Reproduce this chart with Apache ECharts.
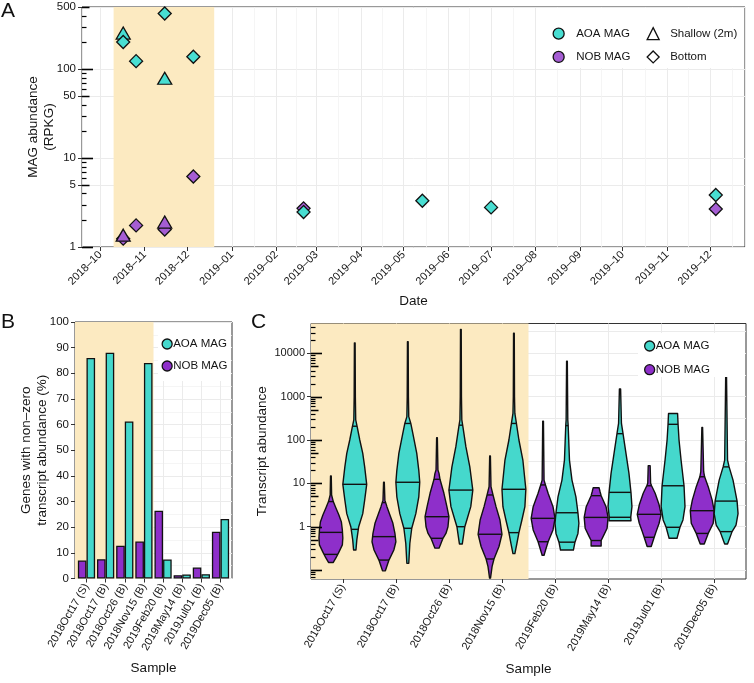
<!DOCTYPE html>
<html><head><meta charset="utf-8">
<script src="https://cdn.jsdelivr.net/npm/echarts@6/dist/echarts.min.js"></script>
<style>html,body{margin:0;padding:0;background:#fff}#c{width:754px;height:683px}</style>
</head><body><div id="c"></div>
<script>
// ---------------- Panel A data ----------------
const aoaShallowDates = ['2018-10-17', '2018-11-15'];
const aoaShallowRPKG = [242, 75];
const nobShallowDates = ['2018-10-17', '2018-11-15'];
const nobShallowRPKG = [1.29, 1.81];
const aoaBottomDates = ['2018-10-17', '2018-10-26', '2018-11-15', '2018-12-05', '2019-02-20', '2019-05-14', '2019-07-01', '2019-12-05'];
const aoaBottomRPKG = [202, 123, 423, 138, 2.47, 3.31, 2.79, 3.84];
const nobBottomDates = ['2018-10-17', '2018-10-26', '2018-11-15', '2018-12-05', '2019-02-20', '2019-12-05'];
const nobBottomRPKG = [1.24, 1.75, 1.57, 6.2, 2.72, 2.67];
const aShadeDates = ['2018-10-10T07:00:00', '2018-12-19T14:00:00'];
const aYTickLabels = [1, 5, 10, 50, 100, 500];

// ---------------- Panel B data ----------------
const samples = ['2018Oct17 (S)', '2018Oct17 (B)', '2018Oct26 (B)', '2018Nov15 (B)', '2019Feb20 (B)', '2019May14 (B)', '2019Jul01 (B)', '2019Dec05 (B)'];
const aoaPct = [86, 88, 61.2, 84, 7.4, 1.6, 1.7, 23.2];
const nobPct = [7, 7.5, 12.8, 14.4, 26.4, 1.3, 4.3, 18.2];
const shadeSamplesUpTo = 4; // first four samples shaded

// ---------------- Panel C data (violins) ----------------
const violinSample = [1, 1, 2, 2, 3, 3, 4, 4, 5, 5, 6, 6, 7, 7, 8, 8];
const violinMAG = ['NOB', 'AOA', 'NOB', 'AOA', 'NOB', 'AOA', 'NOB', 'AOA', 'NOB', 'AOA', 'NOB', 'AOA', 'NOB', 'AOA', 'NOB', 'AOA'];
const violinVals = [
  [0.15, 0.19, 0.26, 0.38, 0.55, 0.84, 1.28, 1.86, 2.7, 3.8, 5.4, 14.8],
  [0.29, 0.49, 1.0, 2.0, 4.1, 9.5, 24, 49, 100, 203, 290, 1000, 17400],
  [0.096, 0.17, 0.29, 0.45, 0.70, 1.2, 1.86, 2.9, 4.1, 10.6],
  [0.143, 0.41, 0.92, 2.0, 4.9, 10.6, 20, 49, 142, 241, 346, 1000, 18500],
  [0.32, 0.41, 0.54, 0.70, 1.0, 1.70, 2.9, 5.9, 12.4, 17, 20.4, 113],
  [0.40, 0.59, 1.0, 1.43, 2.9, 7.0, 24, 70, 203, 290, 1000, 35700],
  [0.065, 0.12, 0.18, 0.35, 0.67, 1.43, 2.9, 5.4, 8.4, 43],
  [0.24, 0.41, 0.73, 1.43, 2.9, 7.3, 34.5, 100, 241, 410, 1000, 28900],
  [0.22, 0.29, 0.45, 0.84, 1.56, 2.9, 5.9, 9.2, 11.9, 273],
  [0.29, 0.44, 0.70, 1.2, 2.1, 4.9, 11.9, 34.5, 220, 290, 6600],
  [0.36, 0.48, 0.59, 0.92, 1.64, 2.9, 5.2, 6.4, 7.9],
  [1.37, 1.65, 2.9, 6.1, 17, 49, 142, 241, 1500],
  [0.35, 0.57, 0.77, 1.2, 1.93, 3.2, 5.9, 8.8, 10, 25.6],
  [0.54, 0.97, 1.43, 2.9, 8.8, 34.5, 100, 230, 410],
  [0.40, 0.70, 1.2, 2.34, 4.1, 8.4, 14.2, 18.6, 196],
  [0.40, 0.77, 1.09, 2.0, 3.9, 11.9, 24, 34.5, 3800]
];
const violinDensity = [
  [0.2, 0.42, 0.67, 0.96, 1.0, 0.96, 0.88, 0.67, 0.42, 0.2, 0.06, 0.03],
  [0.1, 0.17, 0.33, 0.67, 0.83, 1.0, 0.83, 0.67, 0.42, 0.2, 0.08, 0.05, 0.03],
  [0.12, 0.42, 0.83, 1.0, 0.92, 0.75, 0.5, 0.25, 0.08, 0.03],
  [0.08, 0.17, 0.33, 0.67, 0.92, 1.0, 0.92, 0.75, 0.42, 0.25, 0.08, 0.05, 0.03],
  [0.17, 0.33, 0.5, 0.75, 0.92, 1.0, 0.83, 0.58, 0.25, 0.17, 0.08, 0.03],
  [0.12, 0.21, 0.33, 0.5, 0.83, 1.0, 0.75, 0.42, 0.17, 0.08, 0.05, 0.03],
  [0.04, 0.17, 0.33, 0.75, 1.0, 0.83, 0.5, 0.25, 0.08, 0.03],
  [0.08, 0.25, 0.42, 0.67, 0.92, 1.0, 0.75, 0.42, 0.21, 0.08, 0.05, 0.03],
  [0.08, 0.21, 0.42, 0.83, 1.0, 0.83, 0.42, 0.2, 0.08, 0.03],
  [0.54, 0.67, 0.92, 1.0, 0.92, 0.75, 0.42, 0.21, 0.1, 0.07, 0.03],
  [0.42, 0.42, 0.58, 0.92, 1.0, 0.83, 0.42, 0.33, 0.25],
  [0.92, 0.9, 1.0, 0.92, 0.75, 0.5, 0.25, 0.12, 0.05],
  [0.17, 0.42, 0.58, 0.83, 1.0, 0.83, 0.5, 0.2, 0.12, 0.08],
  [0.33, 0.58, 0.83, 1.0, 0.92, 0.67, 0.5, 0.42, 0.38],
  [0.17, 0.5, 0.92, 1.0, 0.83, 0.5, 0.2, 0.12, 0.03],
  [0.12, 0.5, 0.83, 1.0, 0.92, 0.58, 0.25, 0.12, 0.03]
];
const violinQuantiles = [
  [0.23, 0.74, 3.8], [0.87, 9.5, 208], [0.17, 0.59, 3.6], [0.92, 10.6, 241],
  [0.54, 1.70, 12.4], [1.0, 7.0, 220], [0.18, 0.67, 5.4], [0.73, 7.3, 241],
  [0.45, 1.56, 9.2], [0.44, 2.1, 215], [0.48, 1.64, 5.2], [1.65, 6.2, 140],
  [0.57, 1.93, 8.8], [0.97, 8.8, 230], [0.70, 2.34, 14.2], [0.77, 3.9, 24]
];
const cYTickLabels = [1, 10, 100, 1000, 10000];

// ---------------- styling ----------------
const AOA_A = '#48DED2', NOB_A = '#A55DD3';
const AOA = '#45D8CC', NOB = '#8E2FCA';
const SHADE = '#FCEAC1';
const GRID = '#EBEBEB';
const TXT = '#151515';
const FONT = 'Liberation Sans, Arial, sans-serif';

const GA = {left: 82, top: 7, width: 663, height: 240};
const GB = {left: 75, top: 322, width: 157, height: 256.5};
const GC = {left: 311, top: 323.5, width: 435, height: 255.5};

// log tick helpers (axis decoration only): [value, tickClass] 0=long 1=mid 2=short
function logTicks(min, max) {
  const out = [];
  for (let e = -3; e <= 5; e++) {
    for (let m = 1; m <= 9; m++) {
      const v = +(m * Math.pow(10, e)).toPrecision(6);
      if (v < min || v > max) continue;
      out.push([v, m === 1 ? 0 : (m === 5 ? 1 : 2)]);
    }
  }
  return out;
}
const TICK_LEN = [11, 7.5, 4.5];
const TICK_W = [1.6, 1.5, 1.2];

const aMin = 1, aMax = 500;
const cMin = 0.0622, cMax = 48700;
const aLT = logTicks(aMin, aMax), cLT = logTicks(cMin, cMax);
const cHalfDecades = [];
for (let k = -4; k <= 10; k++) { const v = +Math.pow(10, k / 2).toPrecision(6); if (v >= cMin && v <= cMax) cHalfDecades.push(v); }

const tMin = new Date('2018-09-18T05:00:00').getTime();
const tMax = new Date('2019-12-25T10:00:00').getTime();
const monthStarts = [];
for (let i = 0; i < 18; i++) monthStarts.push(new Date(2018, 8 + i, 1).getTime());
const midMonths = [];
for (let i = 0; i < monthStarts.length - 1; i++) {
  const t = (monthStarts[i] + monthStarts[i + 1]) / 2;
  if (t > tMin && t < tMax) midMonths.push(t);
}
const catIdx = samples.map((s, i) => i + 1);
const xMinCat = 0.4, xMaxCat = 8.6;

const DODGE = 0.225, HALF = 0.225;
function interpWidth(vals, dens, q) {
  const lq = Math.log(q);
  for (let k = 0; k < vals.length - 1; k++) {
    if (q >= vals[k] && q <= vals[k + 1]) {
      const a = Math.log(vals[k]), b = Math.log(vals[k + 1]);
      const t = (lq - a) / (b - a);
      return dens[k] + t * (dens[k + 1] - dens[k]);
    }
  }
  return dens[0];
}

const chart = echarts.init(document.getElementById('c'), null, {renderer: 'canvas'});
const axisLabelBase = {color: TXT, fontSize: 11.5, fontFamily: FONT};
const nameStyle = {color: TXT, fontSize: 13.5, fontFamily: FONT, lineHeight: 16};

const legendBoxes = [
  {type: 'rect', shape: {x: 552, y: 8, width: 192, height: 60}, style: {fill: '#fff'}, z: 3, silent: true},
  {type: 'rect', shape: {x: 158, y: 323, width: 73, height: 58}, style: {fill: '#fff'}, z: 3, silent: true},
  {type: 'rect', shape: {x: 638, y: 333, width: 107, height: 44}, style: {fill: '#fff'}, z: 3, silent: true}
];

const option = {
  animation: false,
  backgroundColor: '#fff',
  textStyle: {fontFamily: FONT},
  title: [
    {text: 'A', left: 1, top: 1, padding: 0, textStyle: {fontSize: 21, fontWeight: 'normal', color: '#111', fontFamily: FONT}},
    {text: 'B', left: 1, top: 312, padding: 0, textStyle: {fontSize: 21, fontWeight: 'normal', color: '#111', fontFamily: FONT}},
    {text: 'C', left: 251, top: 312, padding: 0, textStyle: {fontSize: 21, fontWeight: 'normal', color: '#111', fontFamily: FONT}}
  ],
  grid: [
    Object.assign({show: true, backgroundColor: 'transparent', borderColor: '#333', borderWidth: 1}, GA),
    Object.assign({show: true, backgroundColor: 'transparent', borderColor: '#333', borderWidth: 1}, GB),
    Object.assign({show: true, backgroundColor: 'transparent', borderColor: '#333', borderWidth: 1}, GC)
  ],
  graphic: legendBoxes,
  legend: [
    {left: 552.5, top: 27.5, padding: 0, orient: 'vertical', itemGap: 11, itemWidth: 25, itemHeight: 11, selectedMode: false,
      textStyle: {fontSize: 11.5, color: TXT, fontFamily: FONT},
      data: [
        {name: 'AOA MAG', icon: 'circle', itemStyle: {color: AOA_A, borderColor: '#111', borderWidth: 1.3}},
        {name: 'NOB MAG', icon: 'circle', itemStyle: {color: NOB_A, borderColor: '#111', borderWidth: 1.3}}
      ]},
    {left: 646.5, top: 27, padding: 0, orient: 'vertical', itemGap: 10, itemWidth: 12, itemHeight: 12, selectedMode: false,
      textStyle: {fontSize: 11.5, color: TXT, fontFamily: FONT, padding: [0, 0, 0, 6]},
      data: [
        {name: 'Shallow (2m)', icon: 'triangle', itemStyle: {color: '#fff', borderColor: '#111', borderWidth: 1.3}},
        {name: 'Bottom', icon: 'diamond', itemStyle: {color: '#fff', borderColor: '#111', borderWidth: 1.3}}
      ]},
    {left: 161.5, top: 338, padding: 0, orient: 'vertical', itemGap: 10, itemWidth: 10, itemHeight: 10, selectedMode: false,
      textStyle: {fontSize: 11.5, color: TXT, fontFamily: FONT, padding: [0, 0, 0, -4]},
      data: [
        {name: 'AOA MAG', icon: 'circle', itemStyle: {color: AOA, borderColor: '#111', borderWidth: 1.3}},
        {name: 'NOB MAG', icon: 'circle', itemStyle: {color: NOB, borderColor: '#111', borderWidth: 1.3}}
      ]},
    {left: 644, top: 340, padding: 0, orient: 'vertical', itemGap: 11.7, itemWidth: 10, itemHeight: 10, selectedMode: false,
      textStyle: {fontSize: 11.5, color: TXT, fontFamily: FONT, padding: [0, 0, 0, -4]},
      data: [
        {name: 'AOA MAG', icon: 'circle', itemStyle: {color: AOA, borderColor: '#111', borderWidth: 1.3}},
        {name: 'NOB MAG', icon: 'circle', itemStyle: {color: NOB, borderColor: '#111', borderWidth: 1.3}}
      ]}
  ],
  xAxis: [
    {type: 'time', gridIndex: 0, min: tMin, max: tMax, minInterval: 28 * 864e5, maxInterval: 31 * 864e5,
      axisLine: {show: false}, axisTick: {show: true, length: 4, lineStyle: {color: '#333'}},
      axisLabel: Object.assign({}, axisLabelBase, {rotate: 45, fontSize: 11, margin: 6, showMinLabel: false, showMaxLabel: false,
        formatter: function (v) { const d = new Date(v); return d.getFullYear() + '\u2013' + String(d.getMonth() + 1).padStart(2, '0'); }}),
      splitLine: {show: true, lineStyle: {color: GRID, width: 1}},
      name: 'Date', nameLocation: 'middle', nameGap: 46, nameMoveOverlap: false, nameTextStyle: nameStyle},
    {type: 'value', gridIndex: 1, min: xMinCat, max: xMaxCat,
      axisLine: {show: false}, axisTick: {show: true, length: 4, customValues: catIdx, lineStyle: {color: '#333'}},
      axisLabel: Object.assign({}, axisLabelBase, {fontSize: 11, rotate: 60, margin: 6, customValues: catIdx, formatter: v => samples[Math.round(v) - 1]}),
      splitLine: {show: true, lineStyle: {color: GRID, width: 1}},
      name: 'Sample', nameLocation: 'middle', nameGap: 82, nameMoveOverlap: false, nameTextStyle: nameStyle},
    {type: 'value', gridIndex: 2, min: xMinCat, max: xMaxCat,
      axisLine: {show: false}, axisTick: {show: true, length: 4, customValues: catIdx, lineStyle: {color: '#333'}},
      axisLabel: Object.assign({}, axisLabelBase, {fontSize: 11, rotate: 60, margin: 6, customValues: catIdx, formatter: v => samples[Math.round(v) - 1]}),
      splitLine: {show: true, lineStyle: {color: GRID, width: 1}},
      name: 'Sample', nameLocation: 'middle', nameGap: 82, nameMoveOverlap: false, nameTextStyle: nameStyle}
  ],
  yAxis: [
    // 0: A main
    {type: 'log', logBase: 10, gridIndex: 0, min: aMin, max: aMax,
      axisLine: {show: false}, axisTick: {show: true, length: 4, customValues: aYTickLabels, lineStyle: {color: '#333'}},
      axisLabel: Object.assign({}, axisLabelBase, {margin: 6, customValues: aYTickLabels, formatter: v => String(Math.round(v))}),
      splitLine: {show: true, lineStyle: {color: GRID, width: 1}},
      name: 'MAG abundance\n(RPKG)', nameLocation: 'middle', nameGap: 25, nameMoveOverlap: false, nameTextStyle: nameStyle},
    // 1: B
    {type: 'value', gridIndex: 1, min: 0, max: 100, interval: 10,
      axisLine: {show: false}, axisTick: {show: true, length: 4, lineStyle: {color: '#333'}},
      axisLabel: Object.assign({}, axisLabelBase, {margin: 6}),
      splitLine: {show: true, lineStyle: {color: GRID, width: 1}},
      minorTick: {show: false, splitNumber: 2}, minorSplitLine: {show: true, lineStyle: {color: '#F0F0F0', width: 0.7}},
      name: 'Genes with non\u2013zero\ntranscript abundance (%)', nameLocation: 'middle', nameGap: 24.5, nameMoveOverlap: false, nameTextStyle: nameStyle},
    // 2: C main
    {type: 'log', logBase: 10, gridIndex: 2, min: cMin, max: cMax,
      axisLine: {show: false}, axisTick: {show: true, length: 4, customValues: cYTickLabels, lineStyle: {color: '#333'}},
      axisLabel: Object.assign({}, axisLabelBase, {fontSize: 11, margin: 6, customValues: cYTickLabels, formatter: v => String(Math.round(v))}),
      splitLine: {show: false},
      name: 'Transcript abundance', nameLocation: 'middle', nameGap: 41, nameMoveOverlap: false, nameTextStyle: nameStyle},
    // 3: C grid lines
    {type: 'log', logBase: 10, gridIndex: 2, min: cMin, max: cMax, position: 'left',
      axisLine: {show: false}, axisTick: {show: false, customValues: cHalfDecades}, axisLabel: {show: false},
      splitLine: {show: true, lineStyle: {color: GRID, width: 1}}}
  ],
  series: [
    // Panel A minor vertical grid lines
    {type: 'scatter', name: 'gridA', xAxisIndex: 0, yAxisIndex: 0, data: [], silent: true, z: 1,
      markLine: {silent: true, z: 0.5, symbol: ['none', 'none'], label: {show: false},
        lineStyle: {color: '#F2F2F2', width: 0.8, type: 'solid'},
        data: midMonths.map(t => ({xAxis: t}))}},
    // Panel A shading
    {type: 'scatter', name: 'shadeA', xAxisIndex: 0, yAxisIndex: 0, data: [], silent: true, z: 1,
      markArea: {silent: true, z: 1, itemStyle: {color: SHADE}, data: [[{xAxis: aShadeDates[0]}, {xAxis: aShadeDates[1]}]]}},
    {type: 'scatter', name: 'Bottom', xAxisIndex: 0, yAxisIndex: 0, z: 3,
      data: nobBottomDates.map((d, i) => [d, nobBottomRPKG[i]]),
      symbol: 'diamond', symbolSize: 13, itemStyle: {color: NOB_A, borderColor: '#111', borderWidth: 1.3, opacity: 1}},
    {type: 'scatter', name: 'Shallow (2m)', xAxisIndex: 0, yAxisIndex: 0, z: 3,
      data: nobShallowDates.map((d, i) => [d, nobShallowRPKG[i]]),
      symbol: 'triangle', symbolSize: [14, 12], symbolOffset: [0, -2], itemStyle: {color: NOB_A, borderColor: '#111', borderWidth: 1.3, opacity: 1}},
    {type: 'scatter', name: 'Shallow (2m)', xAxisIndex: 0, yAxisIndex: 0, z: 3,
      data: aoaShallowDates.map((d, i) => [d, aoaShallowRPKG[i]]),
      symbol: 'triangle', symbolSize: [14, 12], symbolOffset: [0, -2], itemStyle: {color: AOA_A, borderColor: '#111', borderWidth: 1.3, opacity: 1}},
    {type: 'scatter', name: 'Bottom', xAxisIndex: 0, yAxisIndex: 0, z: 3,
      data: aoaBottomDates.map((d, i) => [d, aoaBottomRPKG[i]]),
      symbol: 'diamond', symbolSize: 13, itemStyle: {color: AOA_A, borderColor: '#111', borderWidth: 1.3, opacity: 1}},
    // Panel B shading
    {type: 'scatter', name: 'shadeB', xAxisIndex: 1, yAxisIndex: 1, data: [], silent: true, z: 1,
      markArea: {silent: true, z: 1, itemStyle: {color: SHADE}, data: [[{xAxis: xMinCat}, {xAxis: shadeSamplesUpTo + 0.5}]]}},
    {type: 'bar', name: 'NOB MAG', xAxisIndex: 1, yAxisIndex: 1, z: 2,
      data: nobPct.map((v, i) => [i + 1, v]), barWidth: '45%', barGap: '0%',
      itemStyle: {color: NOB, borderColor: '#111', borderWidth: 1.3}},
    {type: 'bar', name: 'AOA MAG', xAxisIndex: 1, yAxisIndex: 1, z: 2,
      data: aoaPct.map((v, i) => [i + 1, v]), barWidth: '45%', barGap: '0%',
      itemStyle: {color: AOA, borderColor: '#111', borderWidth: 1.3}},
    // Panel C shading
    {type: 'scatter', name: 'shadeC', xAxisIndex: 2, yAxisIndex: 2, data: [], silent: true, z: 1,
      markArea: {silent: true, z: 1, itemStyle: {color: SHADE}, data: [[{xAxis: xMinCat}, {xAxis: shadeSamplesUpTo + 0.5}]]}},
    // Panel C violins
    {type: 'custom', name: 'violins', xAxisIndex: 2, yAxisIndex: 2, z: 2, silent: true,
      data: violinSample.map((s, i) => [s, violinQuantiles[i][1]]),
      renderItem: function (params, api) {
        const i = params.dataIndex;
        const cx = violinSample[i] + (violinMAG[i] === 'NOB' ? -DODGE : DODGE);
        const vals = violinVals[i], dens = violinDensity[i];
        const pts = [];
        for (let k = 0; k < vals.length; k++) pts.push(api.coord([cx + dens[k] * HALF, vals[k]]));
        for (let k = vals.length - 1; k >= 0; k--) pts.push(api.coord([cx - dens[k] * HALF, vals[k]]));
        const fill = violinMAG[i] === 'NOB' ? NOB : AOA;
        const children = [{type: 'polygon', shape: {points: pts}, style: {fill: fill, stroke: '#111', lineWidth: 1.4, lineJoin: 'round'}}];
        violinQuantiles[i].forEach(q => {
          const w = interpWidth(vals, dens, q) * HALF;
          const p1 = api.coord([cx - w, q]), p2 = api.coord([cx + w, q]);
          children.push({type: 'line', shape: {x1: p1[0], y1: p1[1], x2: p2[0], y2: p2[1]}, style: {stroke: '#111', lineWidth: 1.4}});
        });
        return {type: 'group', children: children};
      }}
  ]
};
chart.setOption(option);

// log-scale tick marks (annotation ticks) placed through the axes' own scales
function tickLines(finder, xLeft, ticks) {
  return ticks.map(t => {
    const p = chart.convertToPixel(finder, [xLeft, t[0]]);
    const y = Math.round(p[1]) + 0.5;
    return {type: 'line', silent: true, z: 10,
      shape: {x1: p[0], y1: y, x2: p[0] + TICK_LEN[t[1]], y2: y},
      style: {stroke: '#000', lineWidth: TICK_W[t[1]]}};
  });
}
const tickElems = tickLines({xAxisIndex: 0, yAxisIndex: 0}, tMin, aLT)
  .concat(tickLines({xAxisIndex: 2, yAxisIndex: 2}, xMinCat, cLT));
chart.setOption({graphic: legendBoxes.concat(tickElems)});
</script></body></html>
